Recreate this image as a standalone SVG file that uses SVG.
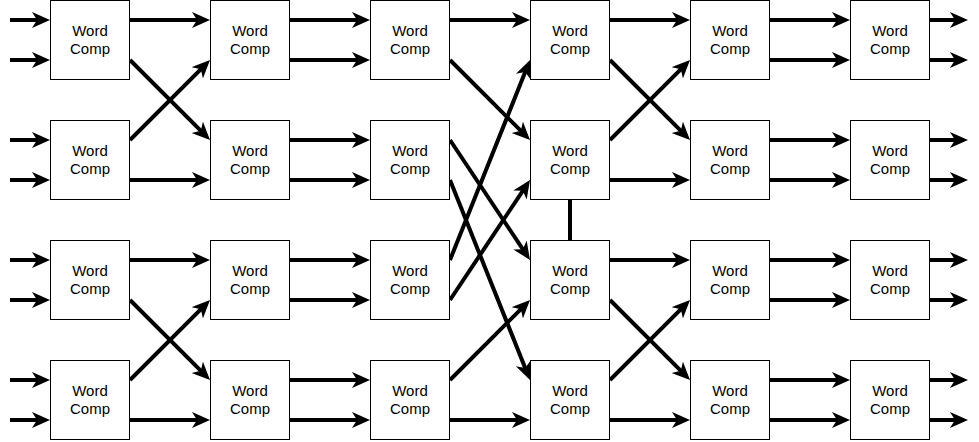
<svg xmlns="http://www.w3.org/2000/svg" width="979" height="442" viewBox="0 0 979 442">
<style>
.box{fill:#fff;stroke:#000;stroke-width:1}
.t{font-family:"Liberation Sans",Arial,sans-serif;font-size:15px;fill:#000;text-anchor:middle}
.c line{stroke:#000;stroke-width:4;marker-end:url(#ah)}
.c line.v{marker-end:none}
</style>
<defs>
<marker id="ah" markerUnits="userSpaceOnUse" markerWidth="20" markerHeight="18" refX="8" refY="8" orient="auto">
<path d="M0,0 L18,8 L0,16 L5,8 Z" fill="#000"/>
</marker>
</defs>
<rect width="979" height="442" fill="#fff"/>
<g id="connectors" class="c">
<!-- inputs -->
<line x1="10" y1="20" x2="40" y2="20"/><line x1="10" y1="60" x2="40" y2="60"/>
<line x1="10" y1="140" x2="40" y2="140"/><line x1="10" y1="180" x2="40" y2="180"/>
<line x1="10" y1="260" x2="40" y2="260"/><line x1="10" y1="300" x2="40" y2="300"/>
<line x1="10" y1="380" x2="40" y2="380"/><line x1="10" y1="420" x2="40" y2="420"/>
<!-- col1 -> col2 -->
<line x1="130" y1="20" x2="200" y2="20"/>
<line x1="130" y1="60" x2="202.93" y2="132.93"/>
<line x1="130" y1="140" x2="202.93" y2="67.07"/>
<line x1="130" y1="180" x2="200" y2="180"/>
<line x1="130" y1="260" x2="200" y2="260"/>
<line x1="130" y1="300" x2="202.93" y2="372.93"/>
<line x1="130" y1="380" x2="202.93" y2="307.07"/>
<line x1="130" y1="420" x2="200" y2="420"/>
<!-- col2 -> col3 -->
<line x1="290" y1="20" x2="360" y2="20"/><line x1="290" y1="60" x2="360" y2="60"/>
<line x1="290" y1="140" x2="360" y2="140"/><line x1="290" y1="180" x2="360" y2="180"/>
<line x1="290" y1="260" x2="360" y2="260"/><line x1="290" y1="300" x2="360" y2="300"/>
<line x1="290" y1="380" x2="360" y2="380"/><line x1="290" y1="420" x2="360" y2="420"/>
<!-- col3 -> col4 -->
<line x1="450" y1="20" x2="520" y2="20"/>
<line x1="450" y1="60" x2="522.93" y2="132.93"/>
<line x1="450" y1="140" x2="524.45" y2="251.68"/>
<line x1="450" y1="180" x2="526.29" y2="370.72"/>
<line x1="450" y1="260" x2="526.29" y2="69.28"/>
<line x1="450" y1="300" x2="524.45" y2="188.32"/>
<line x1="450" y1="380" x2="522.93" y2="307.07"/>
<line x1="450" y1="420" x2="520" y2="420"/>
<line class="v" x1="570" y1="200" x2="570" y2="240"/>
<!-- col4 -> col5 -->
<line x1="610" y1="20" x2="680" y2="20"/>
<line x1="610" y1="60" x2="682.93" y2="132.93"/>
<line x1="610" y1="140" x2="682.93" y2="67.07"/>
<line x1="610" y1="180" x2="680" y2="180"/>
<line x1="610" y1="260" x2="680" y2="260"/>
<line x1="610" y1="300" x2="682.93" y2="372.93"/>
<line x1="610" y1="380" x2="682.93" y2="307.07"/>
<line x1="610" y1="420" x2="680" y2="420"/>
<!-- col5 -> col6 -->
<line x1="770" y1="20" x2="840" y2="20"/><line x1="770" y1="60" x2="840" y2="60"/>
<line x1="770" y1="140" x2="840" y2="140"/><line x1="770" y1="180" x2="840" y2="180"/>
<line x1="770" y1="260" x2="840" y2="260"/><line x1="770" y1="300" x2="840" y2="300"/>
<line x1="770" y1="380" x2="840" y2="380"/><line x1="770" y1="420" x2="840" y2="420"/>
<!-- outputs -->
<line x1="930" y1="20" x2="958" y2="20"/><line x1="930" y1="60" x2="958" y2="60"/>
<line x1="930" y1="140" x2="958" y2="140"/><line x1="930" y1="180" x2="958" y2="180"/>
<line x1="930" y1="260" x2="958" y2="260"/><line x1="930" y1="300" x2="958" y2="300"/>
<line x1="930" y1="380" x2="958" y2="380"/><line x1="930" y1="420" x2="958" y2="420"/>
</g>
<g id="n11"><rect class="box" x="50.5" y="0.5" width="79" height="79"/><text class="t" x="90" y="36">Word</text><text class="t" x="90" y="54">Comp</text></g>
<g id="n12"><rect class="box" x="50.5" y="120.5" width="79" height="79"/><text class="t" x="90" y="156">Word</text><text class="t" x="90" y="174">Comp</text></g>
<g id="n13"><rect class="box" x="50.5" y="240.5" width="79" height="79"/><text class="t" x="90" y="276">Word</text><text class="t" x="90" y="294">Comp</text></g>
<g id="n14"><rect class="box" x="50.5" y="360.5" width="79" height="79"/><text class="t" x="90" y="396">Word</text><text class="t" x="90" y="414">Comp</text></g>
<g id="n21"><rect class="box" x="210.5" y="0.5" width="79" height="79"/><text class="t" x="250" y="36">Word</text><text class="t" x="250" y="54">Comp</text></g>
<g id="n22"><rect class="box" x="210.5" y="120.5" width="79" height="79"/><text class="t" x="250" y="156">Word</text><text class="t" x="250" y="174">Comp</text></g>
<g id="n23"><rect class="box" x="210.5" y="240.5" width="79" height="79"/><text class="t" x="250" y="276">Word</text><text class="t" x="250" y="294">Comp</text></g>
<g id="n24"><rect class="box" x="210.5" y="360.5" width="79" height="79"/><text class="t" x="250" y="396">Word</text><text class="t" x="250" y="414">Comp</text></g>
<g id="n31"><rect class="box" x="370.5" y="0.5" width="79" height="79"/><text class="t" x="410" y="36">Word</text><text class="t" x="410" y="54">Comp</text></g>
<g id="n32"><rect class="box" x="370.5" y="120.5" width="79" height="79"/><text class="t" x="410" y="156">Word</text><text class="t" x="410" y="174">Comp</text></g>
<g id="n33"><rect class="box" x="370.5" y="240.5" width="79" height="79"/><text class="t" x="410" y="276">Word</text><text class="t" x="410" y="294">Comp</text></g>
<g id="n34"><rect class="box" x="370.5" y="360.5" width="79" height="79"/><text class="t" x="410" y="396">Word</text><text class="t" x="410" y="414">Comp</text></g>
<g id="n41"><rect class="box" x="530.5" y="0.5" width="79" height="79"/><text class="t" x="570" y="36">Word</text><text class="t" x="570" y="54">Comp</text></g>
<g id="n42"><rect class="box" x="530.5" y="120.5" width="79" height="79"/><text class="t" x="570" y="156">Word</text><text class="t" x="570" y="174">Comp</text></g>
<g id="n43"><rect class="box" x="530.5" y="240.5" width="79" height="79"/><text class="t" x="570" y="276">Word</text><text class="t" x="570" y="294">Comp</text></g>
<g id="n44"><rect class="box" x="530.5" y="360.5" width="79" height="79"/><text class="t" x="570" y="396">Word</text><text class="t" x="570" y="414">Comp</text></g>
<g id="n51"><rect class="box" x="690.5" y="0.5" width="79" height="79"/><text class="t" x="730" y="36">Word</text><text class="t" x="730" y="54">Comp</text></g>
<g id="n52"><rect class="box" x="690.5" y="120.5" width="79" height="79"/><text class="t" x="730" y="156">Word</text><text class="t" x="730" y="174">Comp</text></g>
<g id="n53"><rect class="box" x="690.5" y="240.5" width="79" height="79"/><text class="t" x="730" y="276">Word</text><text class="t" x="730" y="294">Comp</text></g>
<g id="n54"><rect class="box" x="690.5" y="360.5" width="79" height="79"/><text class="t" x="730" y="396">Word</text><text class="t" x="730" y="414">Comp</text></g>
<g id="n61"><rect class="box" x="850.5" y="0.5" width="79" height="79"/><text class="t" x="890" y="36">Word</text><text class="t" x="890" y="54">Comp</text></g>
<g id="n62"><rect class="box" x="850.5" y="120.5" width="79" height="79"/><text class="t" x="890" y="156">Word</text><text class="t" x="890" y="174">Comp</text></g>
<g id="n63"><rect class="box" x="850.5" y="240.5" width="79" height="79"/><text class="t" x="890" y="276">Word</text><text class="t" x="890" y="294">Comp</text></g>
<g id="n64"><rect class="box" x="850.5" y="360.5" width="79" height="79"/><text class="t" x="890" y="396">Word</text><text class="t" x="890" y="414">Comp</text></g>
</svg>
